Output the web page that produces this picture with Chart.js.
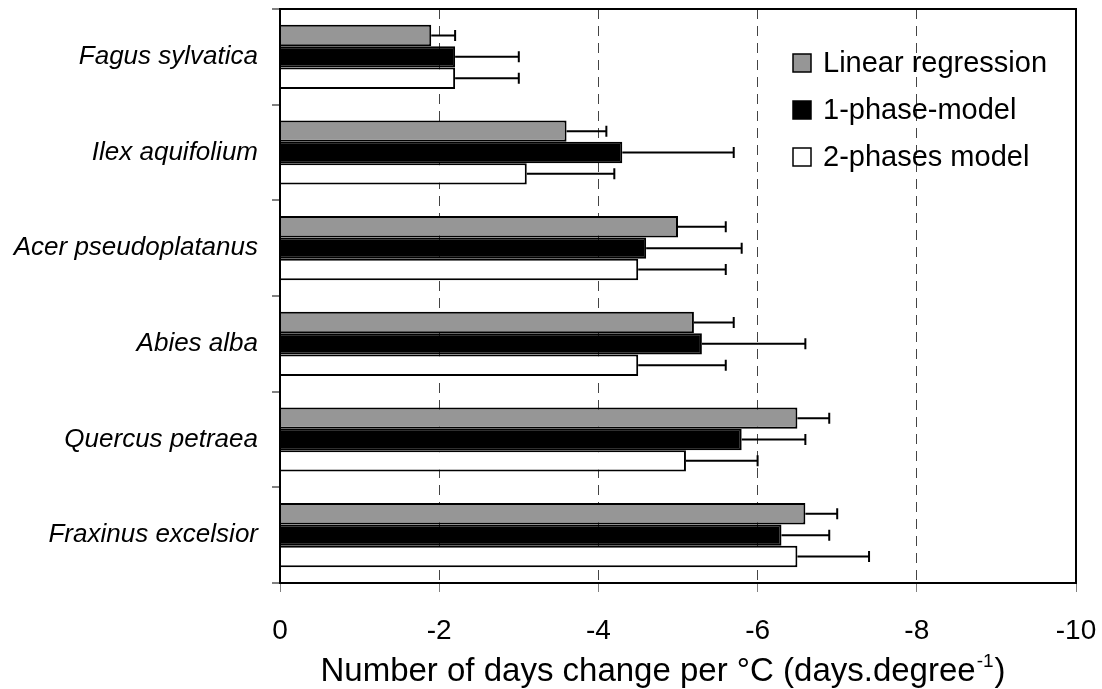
<!DOCTYPE html>
<html>
<head>
<meta charset="utf-8">
<script src="https://cdn.jsdelivr.net/npm/chart.js@4.4.1/dist/chart.umd.min.js"></script>
<style>
  html, body { margin: 0; padding: 0; background: #fff; }
  #wrap { width: 1102px; height: 689px; position: relative; }
</style>
</head>
<body>
<div id="wrap"><canvas id="chart" width="1102" height="689"></canvas></div>
<script>
// Species (one group of bars each)
const species = ['Fagus sylvatica', 'Ilex aquifolium', 'Acer pseudoplatanus', 'Abies alba', 'Quercus petraea', 'Fraxinus excelsior'];

// Series names
const seriesNames = ['Linear regression', '1-phase-model', '2-phases model'];

// Sensitivity (days per °C) and error magnitude for each series
const linearRegression    = [-1.9, -3.6, -5.0, -5.2, -6.5, -6.6];
const linearRegressionErr = [0.3, 0.5, 0.6, 0.5, 0.4, 0.4];
const onePhase            = [-2.2, -4.3, -4.6, -5.3, -5.8, -6.3];
const onePhaseErr         = [0.8, 1.4, 1.2, 1.3, 0.8, 0.6];
const twoPhases           = [-2.2, -3.1, -4.5, -4.5, -5.1, -6.5];
const twoPhasesErr        = [0.8, 1.1, 1.1, 1.1, 0.9, 0.9];

// Value axis tick labels
const xTicks = [0, -2, -4, -6, -8, -10];

const FONT = "'Liberation Sans', Arial, sans-serif";

// Frame around the plotting area
const framePlugin = {
  id: 'frame',
  afterDatasetsDraw(chart) {
    const { ctx, chartArea: a } = chart;
    ctx.save();
    ctx.strokeStyle = '#000';
    ctx.lineWidth = 2;
    ctx.strokeRect(a.left, a.top, a.right - a.left, a.bottom - a.top);
    ctx.restore();
  }
};

// One-sided error bars, extending beyond the end of each bar
const errorBarPlugin = {
  id: 'errorBars',
  afterDatasetsDraw(chart) {
    const { ctx } = chart;
    const xs = chart.scales.x;
    ctx.save();
    ctx.strokeStyle = '#000';
    ctx.lineWidth = 2;
    chart.data.datasets.forEach((ds, i) => {
      const meta = chart.getDatasetMeta(i);
      meta.data.forEach((bar, j) => {
        const v = ds.data[j];
        const e = ds.errors[j];
        const xEnd = xs.getPixelForValue(v - e);
        ctx.beginPath();
        ctx.moveTo(bar.x, bar.y);
        ctx.lineTo(xEnd, bar.y);
        ctx.moveTo(xEnd, bar.y - 5.5);
        ctx.lineTo(xEnd, bar.y + 5.5);
        ctx.stroke();
      });
    });
    ctx.restore();
  }
};

// Legend inside the plotting area, upper right
const legendPlugin = {
  id: 'innerLegend',
  afterDraw(chart) {
    const { ctx, chartArea: a } = chart;
    const x0 = a.right - 283;
    const y0 = a.top + 54;
    const gap = 47;
    ctx.save();
    ctx.font = '29px ' + FONT;
    ctx.textBaseline = 'middle';
    ctx.textAlign = 'left';
    chart.data.datasets.forEach((ds, i) => {
      const cy = y0 + i * gap;
      ctx.fillStyle = ds.backgroundColor;
      ctx.fillRect(x0, cy - 9, 18, 18);
      ctx.strokeStyle = '#000';
      ctx.lineWidth = 1.5;
      ctx.strokeRect(x0, cy - 9, 18, 18);
      ctx.fillStyle = '#000';
      ctx.fillText(ds.label, x0 + 30, cy + 1);
    });
    ctx.restore();
  }
};

// Axis title with a superscript exponent
const axisTitlePlugin = {
  id: 'axisTitle',
  afterDraw(chart) {
    const { ctx } = chart;
    const main = 'Number of days change per °C (days.degree';
    const sup = '-1';
    const tail = ')';
    ctx.save();
    ctx.fillStyle = '#000';
    ctx.textBaseline = 'alphabetic';
    ctx.textAlign = 'left';
    ctx.font = '33px ' + FONT;
    const wMain = ctx.measureText(main).width;
    const wTail = ctx.measureText(tail).width;
    ctx.font = '19px ' + FONT;
    const wSup = ctx.measureText(sup).width;
    const total = wMain + wSup + wTail + 2;
    let x = 663 - total / 2;
    const base = 681;
    ctx.font = '33px ' + FONT;
    ctx.fillText(main, x, base);
    x += wMain + 1;
    ctx.font = '19px ' + FONT;
    ctx.fillText(sup, x, base - 14);
    x += wSup + 1;
    ctx.font = '33px ' + FONT;
    ctx.fillText(tail, x, base);
    ctx.restore();
  }
};

new Chart(document.getElementById('chart'), {
  type: 'bar',
  data: {
    labels: species,
    datasets: [
      { label: seriesNames[0], data: linearRegression, errors: linearRegressionErr, backgroundColor: '#969696' },
      { label: seriesNames[1], data: onePhase, errors: onePhaseErr, backgroundColor: '#000000' },
      { label: seriesNames[2], data: twoPhases, errors: twoPhasesErr, backgroundColor: '#ffffff' }
    ].map(d => Object.assign(d, {
      borderColor: '#000',
      borderWidth: 2,
      categoryPercentage: 0.67,
      barPercentage: 1.0
    }))
  },
  options: {
    indexAxis: 'y',
    responsive: false,
    animation: false,
    layout: { padding: { top: 9, right: 26, left: 0, bottom: 0 } },
    plugins: {
      legend: { display: false },
      tooltip: { enabled: false }
    },
    scales: {
      x: {
        type: 'linear',
        min: -10,
        max: 0,
        reverse: true,
        afterBuildTicks(scale) { scale.ticks = xTicks.map(v => ({ value: v })); },
        afterFit(scale) {
          scale.height = 106;
          scale.paddingLeft = 0;
          scale.paddingRight = 0;
        },
        ticks: {
          color: '#000',
          font: { family: FONT, size: 28 },
          padding: 22,
          maxRotation: 0,
          callback: v => String(v)
        },
        grid: {
          color: '#444',
          lineWidth: 1,
          tickColor: '#808080',
          tickLength: 9,
          drawOnChartArea: true
        },
        border: { display: true, color: '#000', width: 2, dash: [10, 7] }
      },
      y: {
        type: 'category',
        afterFit(scale) {
          scale.width = 280;
          scale.paddingTop = 0;
          scale.paddingBottom = 0;
        },
        ticks: {
          color: '#000',
          font: { family: FONT, size: 26, style: 'italic' },
          padding: 14
        },
        grid: {
          offset: true,
          drawOnChartArea: false,
          tickColor: '#808080',
          tickLength: 8,
          lineWidth: 2
        },
        border: { display: true, color: '#000', width: 2 }
      }
    }
  },
  plugins: [framePlugin, errorBarPlugin, legendPlugin, axisTitlePlugin]
});
</script>
</body>
</html>
